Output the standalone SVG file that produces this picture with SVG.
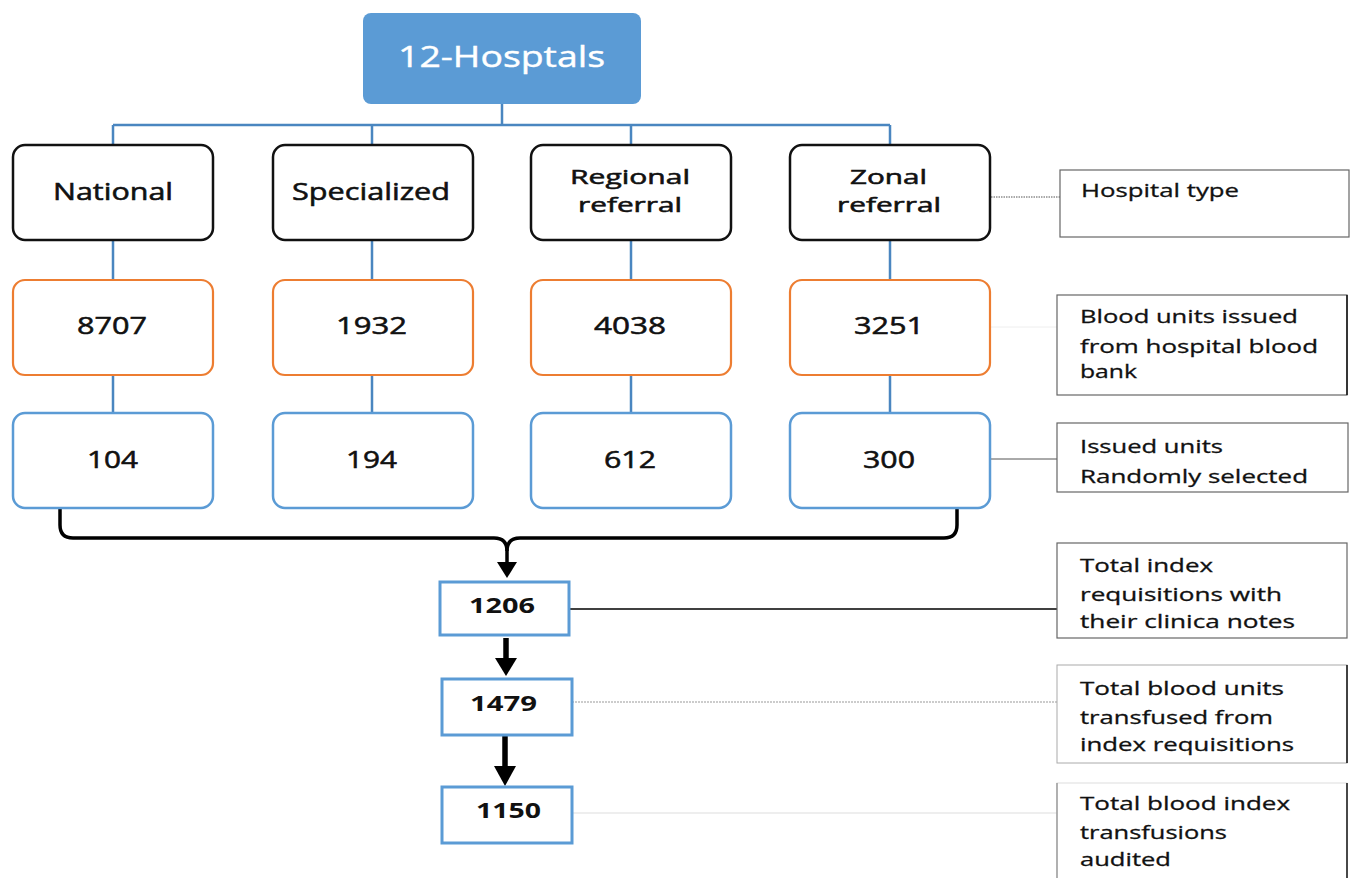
<svg xmlns="http://www.w3.org/2000/svg" width="1350" height="878" viewBox="0 0 1350 878">
<style>
text{font-family:"Open Sans","DejaVu Sans",sans-serif;fill:#111}
.c{text-anchor:middle}
.t1{font-size:24px;stroke:#111;stroke-width:0.55}
.t2{font-size:20.5px;stroke:#111;stroke-width:0.55}
.num{font-size:24px;stroke:#111;stroke-width:0.55}
.bn{font-size:21px;font-weight:700;text-anchor:middle}
.lbl{font-size:19px;stroke:#111;stroke-width:0.3}
.blk{fill:#fff;stroke:#111;stroke-width:2.5}
.org{fill:#fff;stroke:#ED7D31;stroke-width:2.2}
.blu{fill:#fff;stroke:#5B9BD5;stroke-width:2.5}
.sq{fill:#fff;stroke:#5B9BD5;stroke-width:3}
.note{fill:#fff;stroke:#666;stroke-width:1.2}
.tree{stroke:#4A86C0;stroke-width:2.5;fill:none}
.brace{stroke:#000;stroke-width:3.5;fill:none;stroke-linejoin:round}
.shaft{stroke:#000;stroke-width:5.5}
</style>

<g id="connectors">
  <path class="tree" d="M502 104V125M113 125H890M113 125V145M372 125V145M631 125V145M890 125V145"/>
  <path class="tree" d="M113 240V280M372 240V280M631 240V280M890 240V280"/>
  <path class="tree" d="M113 375V413M372 375V413M631 375V413M890 375V413"/>
  <path class="brace" d="M60 508V525Q60 538 73 538H494Q507 538 507 551V563"/>
  <path class="brace" d="M957 508V525Q957 538 944 538H520Q507 538 507 551"/>
  <polygon points="497,562 517,562 507,578" fill="#000"/>
  <line class="shaft" x1="506" y1="638" x2="506" y2="660"/>
  <polygon points="495,658 517,658 506,676" fill="#000"/>
  <line class="shaft" x1="505" y1="735" x2="505" y2="768"/>
  <polygon points="494,766 516,766 505,786" fill="#000"/>
  <line x1="991" y1="197" x2="1060" y2="197" stroke="#555" stroke-width="1" stroke-dasharray="1.5,1"/>
  <line x1="991" y1="327" x2="1057" y2="327" stroke="#eee" stroke-width="1"/>
  <line x1="991" y1="459" x2="1057" y2="459" stroke="#555" stroke-width="1"/>
  <line x1="570" y1="609" x2="1057" y2="609" stroke="#000" stroke-width="1.4"/>
  <line x1="572" y1="702" x2="1057" y2="702" stroke="#999" stroke-width="1" stroke-dasharray="2,1"/>
  <line x1="572" y1="813" x2="1057" y2="813" stroke="#ddd" stroke-width="1"/>
</g>

<g id="n-top">
  <rect x="363" y="13" width="278" height="91" rx="8" fill="#5B9BD5"/>
  <text x="501.5" y="67" class="c" style="font-size:29px;fill:#fff;stroke:#fff;stroke-width:0.4" textLength="207" lengthAdjust="spacingAndGlyphs">12-Hosptals</text>
</g>

<g id="n-national">
  <rect class="blk" x="13" y="145" width="200" height="95" rx="12"/>
  <text x="113" y="200" class="c t1" textLength="120" lengthAdjust="spacingAndGlyphs">National</text>
</g>
<g id="n-specialized">
  <rect class="blk" x="273" y="145" width="200" height="95" rx="12"/>
  <text x="371" y="200" class="c t1" textLength="158" lengthAdjust="spacingAndGlyphs">Specialized</text>
</g>
<g id="n-regional">
  <rect class="blk" x="531" y="145" width="200" height="95" rx="12"/>
  <text x="630" y="184" class="c t2" textLength="120" lengthAdjust="spacingAndGlyphs">Regional</text>
  <text x="630" y="212" class="c t2" textLength="104" lengthAdjust="spacingAndGlyphs">referral</text>
</g>
<g id="n-zonal">
  <rect class="blk" x="790" y="145" width="200" height="95" rx="12"/>
  <text x="888.5" y="184" class="c t2" textLength="77" lengthAdjust="spacingAndGlyphs">Zonal</text>
  <text x="889" y="212" class="c t2" textLength="104" lengthAdjust="spacingAndGlyphs">referral</text>
</g>

<g id="n-8707">
  <rect class="org" x="13" y="280" width="200" height="95" rx="12"/>
  <text x="112" y="334" class="c num" textLength="70" lengthAdjust="spacingAndGlyphs">8707</text>
</g>
<g id="n-1932">
  <rect class="org" x="273" y="280" width="200" height="95" rx="12"/>
  <text x="371.5" y="334" class="c num" textLength="71" lengthAdjust="spacingAndGlyphs">1932</text>
</g>
<g id="n-4038">
  <rect class="org" x="531" y="280" width="200" height="95" rx="12"/>
  <text x="630" y="334" class="c num" textLength="72" lengthAdjust="spacingAndGlyphs">4038</text>
</g>
<g id="n-3251">
  <rect class="org" x="790" y="280" width="200" height="95" rx="12"/>
  <text x="889" y="334" class="c num" textLength="70" lengthAdjust="spacingAndGlyphs">3251</text>
</g>

<g id="n-104">
  <rect class="blu" x="13" y="413" width="200" height="95" rx="12"/>
  <text x="112.5" y="468" class="c num" textLength="51" lengthAdjust="spacingAndGlyphs">104</text>
</g>
<g id="n-194">
  <rect class="blu" x="273" y="413" width="200" height="95" rx="12"/>
  <text x="371.5" y="468" class="c num" textLength="51" lengthAdjust="spacingAndGlyphs">194</text>
</g>
<g id="n-612">
  <rect class="blu" x="531" y="413" width="200" height="95" rx="12"/>
  <text x="630" y="468" class="c num" textLength="52" lengthAdjust="spacingAndGlyphs">612</text>
</g>
<g id="n-300">
  <rect class="blu" x="790" y="413" width="200" height="95" rx="12"/>
  <text x="889" y="468" class="c num" textLength="52" lengthAdjust="spacingAndGlyphs">300</text>
</g>

<g id="n-1206">
  <rect class="sq" x="440" y="582" width="129" height="53"/>
  <text x="502" y="613" class="bn" textLength="66" lengthAdjust="spacingAndGlyphs">1206</text>
</g>
<g id="n-1479">
  <rect class="sq" x="442" y="679" width="130" height="56"/>
  <text x="503.5" y="711" class="bn" textLength="67" lengthAdjust="spacingAndGlyphs">1479</text>
</g>
<g id="n-1150">
  <rect class="sq" x="442" y="787" width="130" height="56"/>
  <text x="508.5" y="818" class="bn" textLength="65" lengthAdjust="spacingAndGlyphs">1150</text>
</g>

<g id="note-type">
  <rect class="note" x="1060" y="170" width="289" height="67"/>
  <text x="1081" y="197" class="lbl" textLength="158" lengthAdjust="spacingAndGlyphs">Hospital type</text>
</g>
<g id="note-issued">
  <rect class="note" x="1057" y="295" width="290" height="100" stroke="#999"/>
  <line x1="1347" y1="295" x2="1347" y2="395" stroke="#111" stroke-width="1.5"/>
  <text x="1080" y="323" class="lbl" textLength="218" lengthAdjust="spacingAndGlyphs">Blood units issued</text>
  <text x="1080" y="353" class="lbl" textLength="238" lengthAdjust="spacingAndGlyphs">from hospital blood</text>
  <text x="1080" y="378" class="lbl" textLength="57" lengthAdjust="spacingAndGlyphs">bank</text>
</g>
<g id="note-random">
  <rect class="note" x="1057" y="423" width="291" height="69"/>
  <text x="1080" y="453" class="lbl" textLength="143" lengthAdjust="spacingAndGlyphs">Issued units</text>
  <text x="1080" y="483" class="lbl" textLength="228" lengthAdjust="spacingAndGlyphs">Randomly selected</text>
</g>
<g id="note-requisitions">
  <rect class="note" x="1057" y="543" width="290" height="95"/>
  <text x="1080" y="572" class="lbl" textLength="133" lengthAdjust="spacingAndGlyphs">Total index</text>
  <text x="1080" y="601" class="lbl" textLength="202" lengthAdjust="spacingAndGlyphs">requisitions with</text>
  <text x="1080" y="628" class="lbl" textLength="215" lengthAdjust="spacingAndGlyphs">their clinica notes</text>
</g>
<g id="note-transfused">
  <rect x="1057" y="665" width="290" height="98" fill="#fff" stroke="#aaa" stroke-width="1"/>
  <line x1="1347" y1="665" x2="1347" y2="763" stroke="#111" stroke-width="1.5"/>
  <text x="1080" y="695" class="lbl" textLength="204" lengthAdjust="spacingAndGlyphs">Total blood units</text>
  <text x="1080" y="724" class="lbl" textLength="193" lengthAdjust="spacingAndGlyphs">transfused from</text>
  <text x="1080" y="751" class="lbl" textLength="214" lengthAdjust="spacingAndGlyphs">index requisitions</text>
</g>
<g id="note-audited">
  <rect x="1057" y="783" width="290" height="100" fill="#fff" stroke="#ddd" stroke-width="1"/>
  <line x1="1057" y1="783" x2="1057" y2="878" stroke="#888" stroke-width="1.2"/>
  <line x1="1347" y1="783" x2="1347" y2="878" stroke="#111" stroke-width="1.5"/>
  <text x="1080" y="810" class="lbl" textLength="210" lengthAdjust="spacingAndGlyphs">Total blood index</text>
  <text x="1080" y="839" class="lbl" textLength="147" lengthAdjust="spacingAndGlyphs">transfusions</text>
  <text x="1080" y="866" class="lbl" textLength="91" lengthAdjust="spacingAndGlyphs">audited</text>
</g>
</svg>
